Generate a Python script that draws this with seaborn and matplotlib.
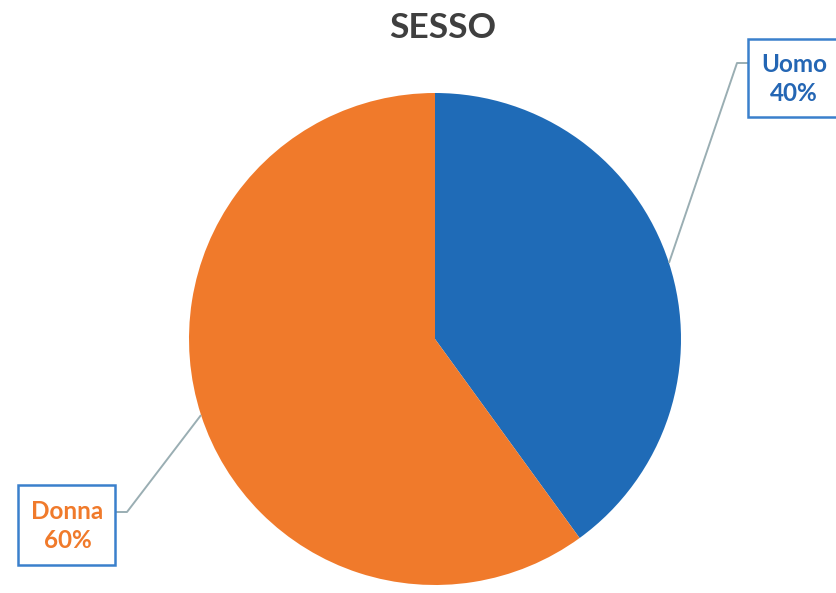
import numpy as np
import matplotlib
matplotlib.use("Agg")
import matplotlib.pyplot as plt
import seaborn as sns
from matplotlib.patches import Rectangle

# Gender breakdown
categories = ["Uomo", "Donna"]
shares = [40, 60]
colors = ["#1F6BB7", "#F07A2B"]
label_colors = ["#2466B4", "#F07A2B"]
title = "SESSO"

sns.set_theme(style="white")
plt.rcParams["font.family"] = ["Lato", "DejaVu Sans"]

W, H = 836, 593
fig = plt.figure(figsize=(W / 100, H / 100), dpi=100)
ax = fig.add_axes([0, 0, 1, 1])

cx, cy, r = 435, H - 339, 246
start = 90
wedges, _ = ax.pie(shares, colors=colors, startangle=start, counterclock=False,
                   center=(cx, cy), radius=r, wedgeprops=dict(linewidth=0))
ax.set_xlim(0, W)
ax.set_ylim(0, H)
ax.set_aspect("equal")
ax.axis("off")

# label boxes (left, top, width, height) in pixel coords from top
boxes = [(748, 39, 90, 78), (18, 485, 97, 80)]
elbows = [(737, 63), (127, 512)]

line_color = "#9AAEB3"
for cat, val, w, box, elbow, tc in zip(categories, shares, wedges, boxes, elbows, label_colors):
    mid = np.deg2rad((w.theta1 + w.theta2) / 2)
    px, py = cx + r * np.cos(mid), cy + r * np.sin(mid)
    bx, by, bw, bh = box
    ex, ey = elbow[0], H - elbow[1]
    side_x = bx if ex > bx else bx + bw
    ax.plot([px, ex, side_x], [py, ey, ey], color=line_color, lw=1.4,
            solid_capstyle="butt", zorder=3)
    ax.add_patch(Rectangle((bx, H - by - bh), bw, bh, facecolor="white",
                           edgecolor="#3A80CC", lw=1.8, zorder=4))
    ax.text(bx + bw / 2 + 1, H - by - bh / 2 - 1, f"{cat}\n{val}%", ha="center", va="center",
            color=tc, fontsize=17.5, fontweight="bold", linespacing=1.35, zorder=5)

ax.text(443, H - 28, title, ha="center", va="center", color="#3F3F3F",
        fontsize=25.5, fontweight="bold")

fig.savefig("out.png", dpi=100, facecolor="white")
